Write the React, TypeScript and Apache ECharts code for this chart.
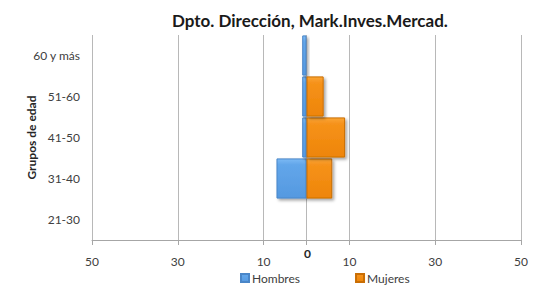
import React, { useEffect, useRef } from "react";
import * as echarts from "echarts";

const categories = ["21-30", "31-40", "41-50", "51-60", "60 y más"];
const hombres = [0, 7, 1, 1, 1];
const mujeres = [0, 6, 9, 4, 0];
const tickValues = [-50, -30, -10, 0, 10, 30, 50];
const labelValues = [-50, -30, -10, 10, 30, 50];

const FONT = "Lato, 'Open Sans', sans-serif";

export default function App() {
  const ref = useRef<HTMLDivElement>(null);
  useEffect(() => {
    document.body.style.margin = "0";
    if (!ref.current) return;
    const chart = echarts.init(ref.current, null, { renderer: "svg" });
    const blue = new echarts.graphic.LinearGradient(0, 0, 0, 1, [
      { offset: 0, color: "#7cbaf4" },
      { offset: 0.15, color: "#62a6ea" },
      { offset: 1, color: "#5599e0" },
    ]);
    const orange = new echarts.graphic.LinearGradient(0, 0, 0, 1, [
      { offset: 0, color: "#fba636" },
      { offset: 0.15, color: "#f6921a" },
      { offset: 1, color: "#ee8508" },
    ]);
    chart.setOption({
      animation: false,
      textStyle: { fontFamily: FONT },
      title: {
        text: "Dpto. Dirección, Mark.Inves.Mercad.",
        left: 167,
        top: 7,
        textStyle: { fontFamily: FONT, fontSize: 17, fontWeight: "bold", color: "#1a1a1a" },
      },
      legend: {
        bottom: 3,
        left: 235,
        itemWidth: 8,
        itemHeight: 8,
        itemGap: 55,
        icon: "rect",
        textStyle: { fontFamily: FONT, fontSize: 12, color: "#404040", padding: [0, 0, 0, -2] },
        data: ["Hombres", "Mujeres"],
      },
      grid: { left: 92, right: 17, top: 35, bottom: 52, containLabel: false },
      xAxis: {
        type: "value",
        min: -50,
        max: 50,
        axisLine: { show: true, lineStyle: { color: "#a6a6a6" } },
        axisTick: { show: true, length: 5, customValues: tickValues, lineStyle: { color: "#a6a6a6" } },
        splitLine: { show: true, lineStyle: { color: "#b8b8b8" } },
        axisLabel: {
          customValues: labelValues,
          formatter: (v: number) => String(Math.abs(v)),
          margin: 15,
          fontFamily: FONT,
          fontSize: 12,
          color: "#404040",
        },
      },
      yAxis: {
        type: "category",
        data: categories,
        name: "Grupos de edad",
        nameLocation: "middle",
        nameRotate: 90,
        nameGap: 55,
        nameMoveOverlap: false,
        nameTextStyle: { fontFamily: FONT, fontSize: 12, fontWeight: "bold", color: "#262626" },
        axisLine: { show: false },
        axisTick: { show: false },
        axisLabel: { margin: 12, fontFamily: FONT, fontSize: 12, color: "#404040" },
      },
      graphic: [
        {
          type: "text",
          left: 304,
          top: 247,
          style: { text: "0", fontFamily: FONT, fontSize: 12, fontWeight: "bold", fill: "#262626" },
        },
      ],
      series: [
        {
          name: "Hombres",
          type: "bar",
          data: hombres.map((v) => -v),
          barCategoryGap: "2%",
          barGap: "-100%",
          itemStyle: {
            color: blue,
            borderColor: "#4a86c8",
            borderWidth: 1,
            shadowColor: "rgba(0,0,0,0.35)",
            shadowBlur: 3,
            shadowOffsetX: 2,
            shadowOffsetY: 2,
          },
        },
        {
          name: "Mujeres",
          type: "bar",
          data: mujeres,
          barCategoryGap: "2%",
          barGap: "-100%",
          itemStyle: {
            color: orange,
            borderColor: "#c96e04",
            borderWidth: 1,
            shadowColor: "rgba(0,0,0,0.35)",
            shadowBlur: 3,
            shadowOffsetX: 2,
            shadowOffsetY: 2,
          },
        },
      ],
    });
    return () => chart.dispose();
  }, []);
  return <div ref={ref} style={{ width: 538, height: 292 }} />;
}
